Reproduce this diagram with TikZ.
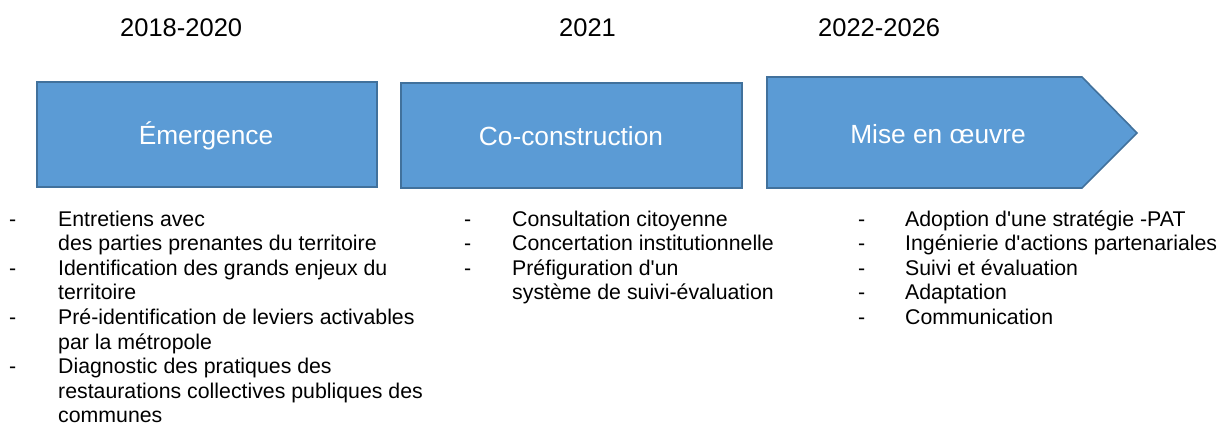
\documentclass[tikz,border=0pt]{standalone}
\usepackage{fontspec}
\setmainfont{Liberation Sans}
\usepackage{array}
\definecolor{phasefill}{HTML}{5B9BD5}
\definecolor{phaseline}{HTML}{41719C}
\tikzset{
  phasebox/.style={draw=phaseline, fill=phasefill, line width=1.6pt},
  phaselabel/.style={text=white, font=\fontsize{26.3}{30}\selectfont, inner sep=0pt, anchor=base},
  yearlabel/.style={font=\fontsize{25.5}{30}\selectfont, inner sep=0pt, anchor=base west},
  itemlist/.style={font=\fontsize{21.3}{24.6}\selectfont, inner sep=0pt, anchor=base west, align=left}
}
\newcommand{\dashitems}[2]{%
  \begin{tabular}[t]{@{}p{#1}@{}l@{}}#2\end{tabular}}
\newcommand{\q}{\textquotesingle}
\begin{document}
\begin{tikzpicture}[x=1pt,y=-1pt]
\useasboundingbox (0,0) rectangle (1219,424);

% period headings
\node[yearlabel] (y1) at (120,36) {2018-2020};
\node[yearlabel] (y2) at (559,36) {2021};
\node[yearlabel] (y3) at (818,36) {2022-2026};

% phase boxes
\draw[phasebox] (37,82) rectangle (377,187);
\draw[phasebox] (401,83) rectangle (742,188);
\draw[phasebox] (767,77) -- (1082,77) -- (1137,133) -- (1082,188) -- (767,188) -- cycle;

\node[phaselabel] (p1) at (206,144) {Émergence};
\node[phaselabel] (p2) at (571,145) {Co-construction};
\node[phaselabel] (p3) at (938,143) {Mise en œuvre};

% activity lists
\node[itemlist] (l1) at (9,226) {\dashitems{49pt}{%
  - & Entretiens avec\\
    & des parties prenantes du territoire\\
  - & Identification des grands enjeux du\\
    & territoire\\
  - & Pré-identification de leviers activables\\
    & par la métropole\\
  - & Diagnostic des pratiques des\\
    & restaurations collectives publiques des\\
    & communes}};

\node[itemlist] (l2) at (464,226) {\dashitems{48pt}{%
  - & Consultation citoyenne\\
  - & Concertation institutionnelle\\
  - & Préfiguration d\q un\\
    & système de suivi-évaluation}};

\node[itemlist] (l3) at (858,226) {\dashitems{47pt}{%
  - & Adoption d\q une stratégie -PAT\\
  - & Ingénierie d\q actions partenariales\\
  - & Suivi et évaluation\\
  - & Adaptation\\
  - & Communication}};
\end{tikzpicture}
\end{document}
